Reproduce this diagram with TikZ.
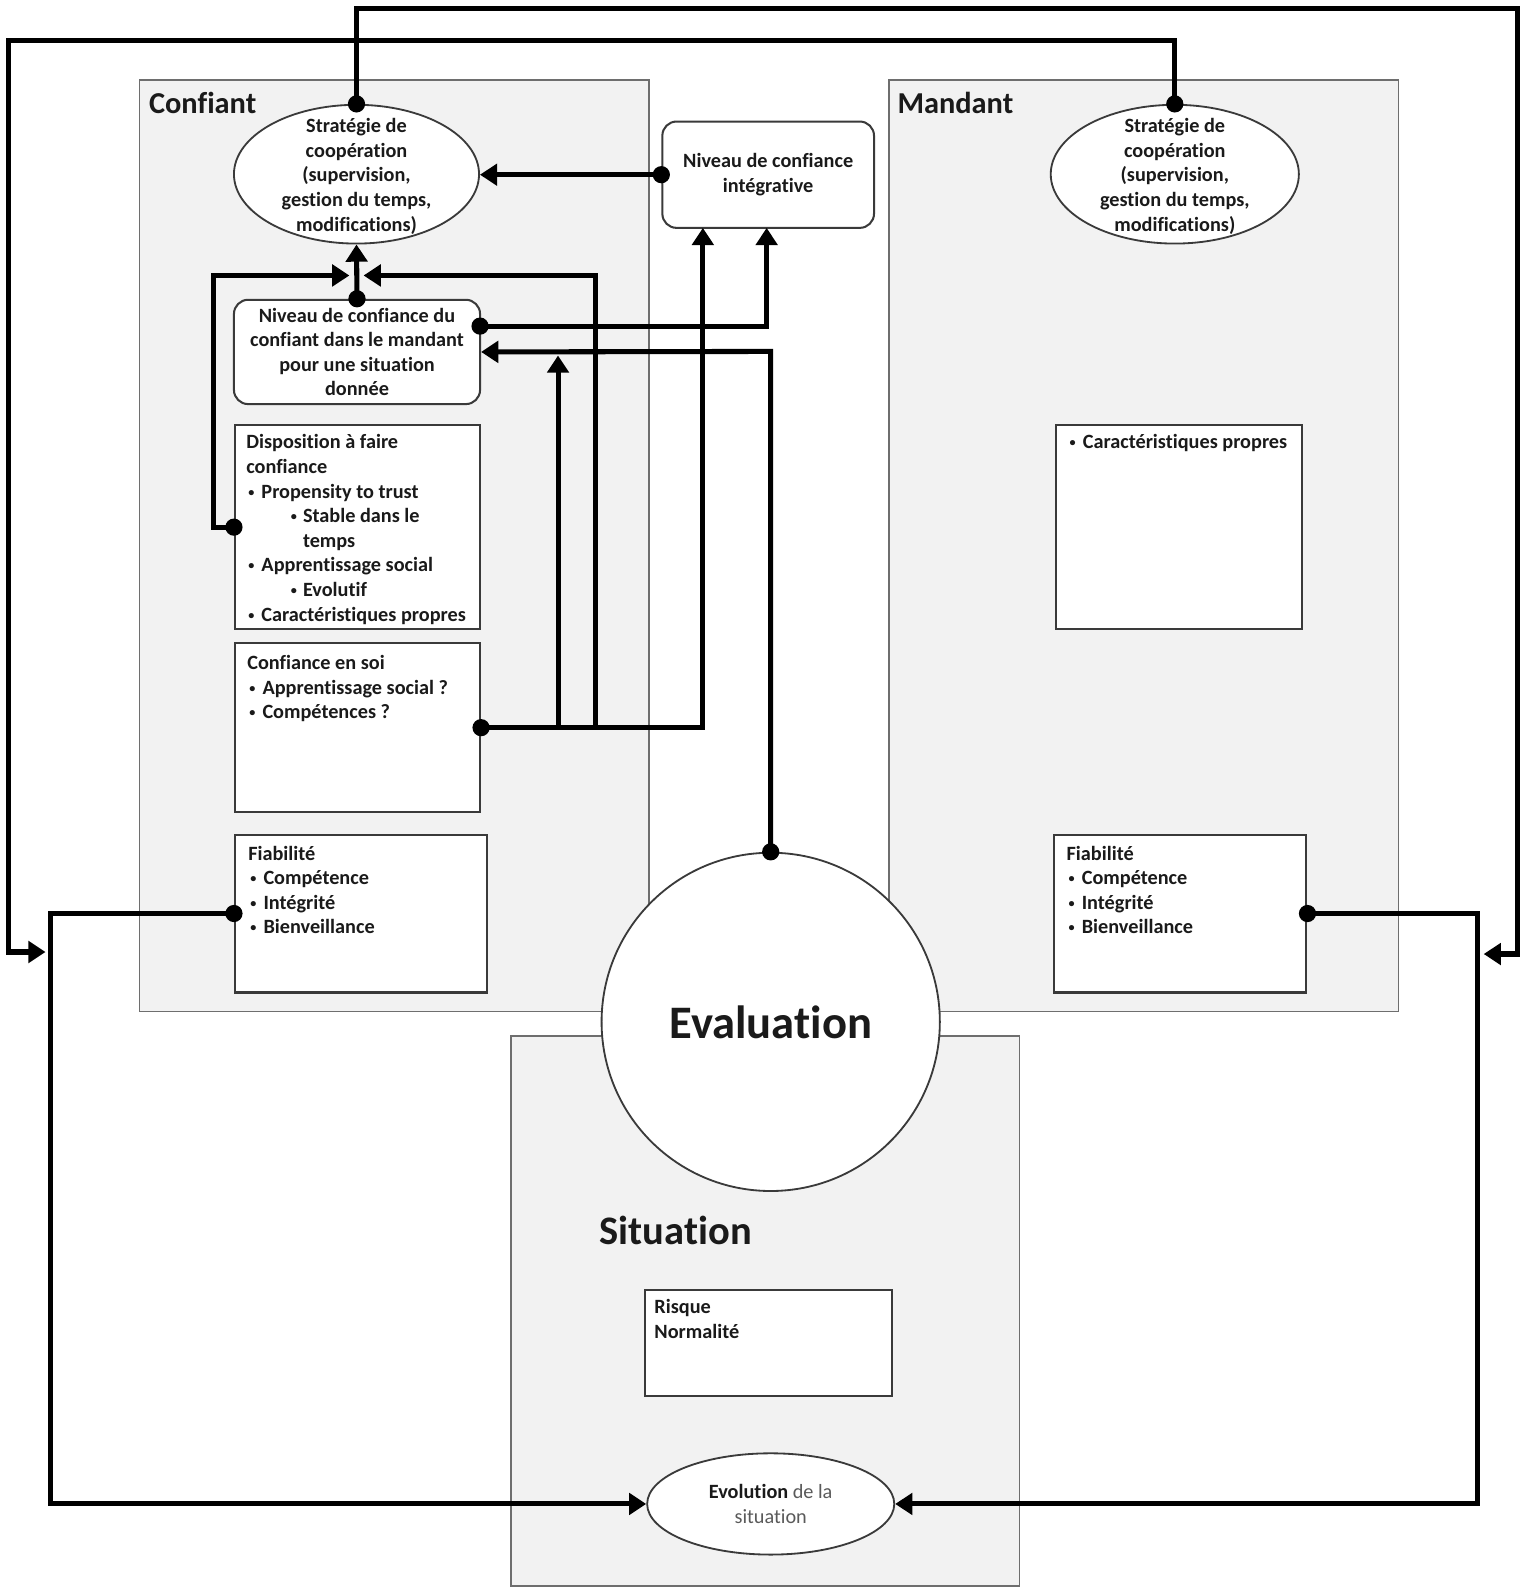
\documentclass[tikz,border=0pt]{standalone}
\usepackage{fontspec}
\setmainfont{Carlito}[Ligatures=NoCommon]
\usetikzlibrary{arrows.meta,shapes.geometric,calc}
\definecolor{regfill}{HTML}{F2F2F2}
\definecolor{regline}{HTML}{6E6E6E}
\definecolor{boxline}{HTML}{3A3A3A}
\definecolor{ink}{HTML}{1A1A1A}
\definecolor{soft}{HTML}{5A5A5A}
\newcommand\myBody{\fontsize{20}{24.3}\selectfont\bfseries}
\newcommand\mydot{\raisebox{2pt}{\fontsize{12}{12}\selectfont•}}
\newcommand\bul{\hspace*{2pt}\makebox[13pt][l]{\mydot}}
\newcommand\subbul{\hspace*{44pt}\makebox[12pt][l]{\mydot}}
\begin{document}
\begin{tikzpicture}[x=1pt,y=-1pt,
 region/.style={draw=regline, line width=1.5pt, fill=regfill, rectangle, inner sep=0, anchor=north west},
 wbox/.style={draw=boxline, line width=2pt, fill=white, rectangle, inner sep=0, anchor=north west},
 rbox/.style={draw=boxline, line width=2pt, fill=white, rectangle, rounded corners=14pt, inner sep=0, align=center, font=\myBody, text=ink},
 ell/.style={draw=boxline, line width=1.8pt, fill=white, ellipse, inner sep=0},
 txt/.style={font=\myBody, text=ink, align=left, inner sep=0, anchor=north west},
 ctxt/.style={font=\myBody, text=ink, align=center, inner sep=0},
 title/.style={font=\fontsize{30}{36}\selectfont\bfseries, text=ink, anchor=west, inner sep=0},
 conn/.style={line width=5pt, draw=black},
 arr/.style={conn, -{Triangle[length=17pt,width=21pt]}}
]
\useasboundingbox (0,0) rectangle (1508,1568);

% regions
\node[region, minimum width=503pt, minimum height=920pt] (conf) at (137,78) {};
\node[region, minimum width=503pt, minimum height=920pt] (mand) at (877,78) {};
\node[region, minimum width=502pt, minimum height=543pt] (sit) at (504,1022) {};
\node[title] (confl) at (147,102) {Confiant};
\node[title] (mandl) at (886,102) {Mandant};
\node[title, font=\fontsize{40}{48}\selectfont\bfseries] (sitl) at (592,1215) {Situation};

% evaluation
\node[circle, draw=boxline, line width=1.8pt, fill=white, minimum size=334pt, inner sep=0,
      font=\fontsize{46}{55}\selectfont\bfseries, text=ink] (ev) at (761,1009) {Evaluation};

% ellipses
\node[ell, minimum width=242pt, minimum height=137pt] (sl) at (352,172) {};
\node[ctxt] (slt) at ([yshift=-2pt]sl.center) {Stratégie de\\coopération\\(supervision,\\gestion du temps,\\modifications)};
\node[ell, minimum width=245pt, minimum height=137pt] (sr) at (1160,172) {};
\node[ctxt] (srt) at ([yshift=-2pt]sr.center) {Stratégie de\\coopération\\(supervision,\\gestion du temps,\\modifications)};

% rounded boxes
\node[rbox, minimum width=209pt, minimum height=105pt] (ni) at (758.5,172.5) {Niveau de confiance\\intégrative};
\node[rbox, minimum width=243pt, minimum height=103pt] (nc) at (352.5,347.5) {Niveau de confiance du\\confiant dans le mandant\\pour une situation\\donnée};

% white boxes
\node[wbox, minimum width=242pt, minimum height=201pt] (disp) at (231,419) {};
\node[wbox, minimum width=242pt, minimum height=167pt] (cs) at (231,634) {};
\node[wbox, minimum width=249pt, minimum height=156pt] (fl) at (231,823) {};
\node[wbox, minimum width=243pt, minimum height=201pt] (car) at (1042,419) {};
\node[wbox, minimum width=249pt, minimum height=156pt] (fr) at (1040,823) {};
\node[wbox, minimum width=244pt, minimum height=104pt] (risk) at (636,1273) {};
\node[ell, minimum width=244pt, minimum height=100pt, align=center, font=\myBody, text=ink] (evo) at (761,1485)
  {Evolution {\color{soft}\mdseries de la}\\{\color{soft}\mdseries situation}};

% box texts
\node[txt] (dispt) at (243,426) {\strut Disposition à faire\\confiance\\\bul Propensity to trust\\\subbul Stable dans le\\\hspace*{56pt}temps\\\bul Apprentissage social\\\subbul Evolutif\\\bul Caractéristiques propres};
\node[txt] (cst) at (244,644) {\strut Confiance en soi\\\bul Apprentissage social ?\\\bul Compétences ?};
\node[txt] (flt) at (245,832) {\strut Fiabilité\\\bul Compétence\\\bul Intégrité\\\bul Bienveillance};
\node[txt] (cart) at (1054,426) {\strut\bul Caractéristiques propres};
\node[txt] (frt) at (1053,832) {\strut Fiabilité\\\bul Compétence\\\bul Intégrité\\\bul Bienveillance};
\node[txt] (riskt) at (646,1280) {\strut Risque\\Normalité};

% connectors
\coordinate (tA) at (1498,8);
\coordinate (aA) at (1465,942);
\draw[arr] (sl.north) |- (tA) |- (aA);
\coordinate (tB) at (8,40);
\coordinate (aB) at (45,940);
\draw[arr] (sr.north) |- (tB) |- (aB);
\coordinate (cC) at (50,1485);
\draw[arr] (fl.west) -| (cC) -- (evo.west);
\coordinate (cD) at (1459,1485);
\draw[arr] (fr.east) -| (cD) -- (evo.east);
\draw[arr] (ni.west) -- (ni.west -| sl.east);
\draw[arr] (nc.north) -- (sl.south);
\coordinate (gA) at (211,272);
\coordinate (gT) at (345,272);
\draw[arr] (disp.west) -| (gA) -- (gT);
\coordinate (hC) at (588,272);
\coordinate (hT) at (359,272);
\draw[arr] (cs.east) -| (hC) -- (hT);
\coordinate (iT) at (551,351);
\draw[arr] (cs.east -| iT) -- (iT);
\coordinate (jT) at (694,225);
\draw[arr] (cs.east) -| (jT);
\coordinate (kS) at (474,322);
\coordinate (kT) at (757,225);
\draw[arr] (kS) -| (kT);
\coordinate (lC) at (761,347);
\draw[arr] (ev.north) -- (lC) -- (nc.east);

% dots
\foreach \p in {sl.north, sr.north, fl.west, fr.east, ni.west, nc.north, disp.west, cs.east, kS, ev.north}
  \fill (\p) circle (8.5pt);
\end{tikzpicture}
\end{document}
